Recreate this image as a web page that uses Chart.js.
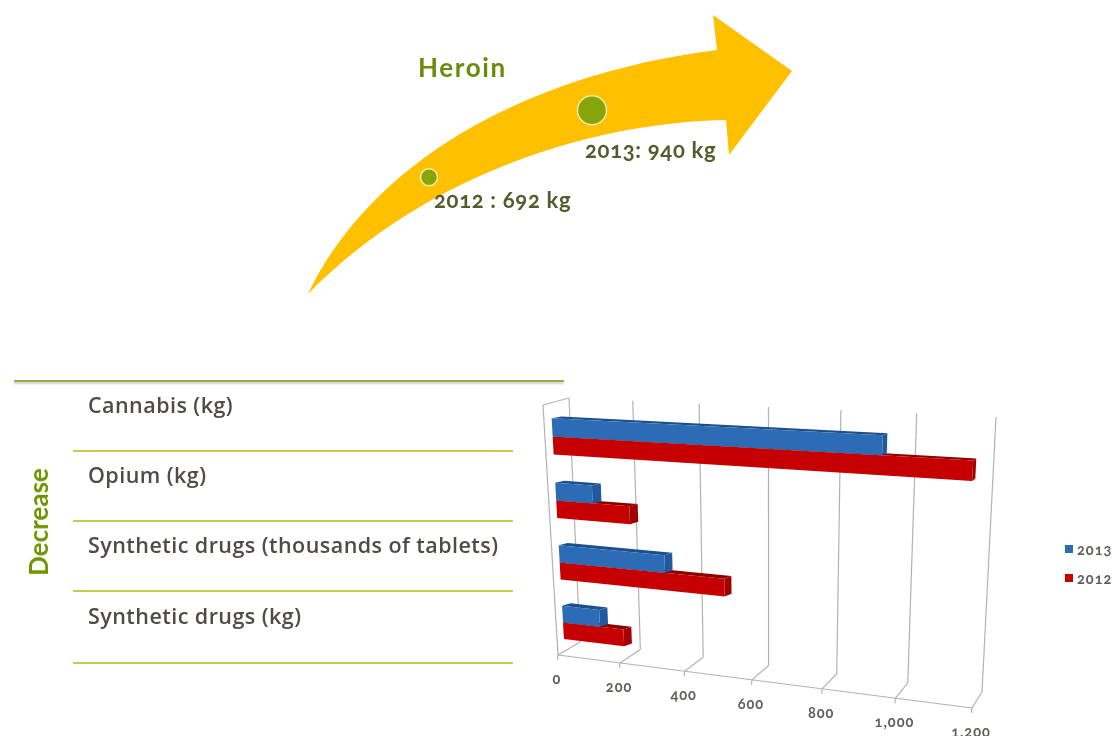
<!DOCTYPE html>
<html>
<head>
<meta charset="utf-8">
<title>Heroin and decreasing seizures</title>
<script src="https://cdn.jsdelivr.net/npm/chart.js@4/dist/chart.umd.min.js"></script>
<style>
  html, body { margin: 0; padding: 0; background: #fff; }
  #page { position: relative; width: 1114px; height: 736px; overflow: hidden; font-family: "Lato", "Open Sans", sans-serif; font-variant-numeric: oldstyle-nums; font-feature-settings: "onum" 1; }
  canvas { position: absolute; left: 0; top: 0; }
  .txt { position: absolute; white-space: nowrap; transform: translateY(-50%); }
  .rule { position: absolute; left: 73px; width: 440px; height: 2px; background: #c6ca4e; }
  #topRule { position: absolute; left: 14px; top: 380px; width: 550px; height: 2px; background: #a3a843; box-shadow: 0 2px 2px rgba(90,90,60,.3); }
  #decrease { position: absolute; left: 38px; top: 522px; transform: translate(-50%,-50%) rotate(-90deg); font-size: 26px; font-weight: 700; color: #6f9400; white-space: nowrap; }
  .row { left: 88px; font-family: "Open Sans", sans-serif; font-size: 21.5px; font-weight: 600; letter-spacing: .45px; color: #4f4c48; }
  .heroin { font-size: 22px; font-weight: 700; letter-spacing: .7px; color: #565b2c; }
  .tick { position: absolute; transform: translate(-50%,-50%); font-size: 14.5px; font-weight: 700; letter-spacing: 1px; color: #5f5d58; }
  .swatch { position: absolute; left: 1065px; width: 8px; height: 8px; }
  .leg { position: absolute; left: 1077px; transform: translateY(-50%); font-size: 14.5px; font-weight: 700; letter-spacing: 1px; color: #5f5d58; }
</style>
</head>
<body>
<div id="page">
  <canvas id="arrowChart" width="1114" height="330"></canvas>
  <canvas id="barChart" width="1114" height="736"></canvas>
  <div id="labels"></div>
  <div id="ticks"></div>
</div>
<script>
// heroin, kg
const heroinYears = [2012, 2013];
const heroinValues = [692, 940];
const heroinLabels = ["2012 : 692 kg", "2013: 940 kg"];
const heroinRadius = [8.5, 14.5];

// decreasing seizures
const categories = ["Cannabis (kg)", "Opium (kg)", "Synthetic drugs (thousands of tablets)", "Synthetic drugs (kg)"];
const values2013 = [935, 115, 330, 120];
const values2012 = [1162, 228, 507, 195];
const seriesNames = ["2013", "2012"];
const tickValues = [0, 200, 400, 600, 800, 1000, 1200];
const tickLabels = ["0", "200", "400", "600", "800", "1,000", "1,200"];

const colors2013 = { front: "#2b6cb4", top: "#1c4f8c", side: "#1f5a9e" };
const colors2012 = { front: "#c60000", top: "#8e0000", side: "#a00000" };

// corners of the plot box on screen: TL, TR, BR, BL
const frontQuad = [[543, 405], [989, 426], [972, 708], [558, 655]];
const backQuad = [[569, 398], [996, 417], [982, 692], [580, 642]];
const BAR_Z0 = 0.3, BAR_Z1 = 0.68;
const BAR_DROP = 2;        // boxes sit a touch lower than the band centre
const TOP_SQUASH = 0.55;   // flatter top faces than the floor would give

// plane at depth z -> homography from the unit square
function planeAt(z) {
  const q = frontQuad.map((p, i) => [p[0] + (backQuad[i][0] - p[0]) * z, p[1] + (backQuad[i][1] - p[1]) * z]);
  const [[x0, y0], [x1, y1], [x2, y2], [x3, y3]] = q;
  const sx = x0 - x1 + x2 - x3, sy = y0 - y1 + y2 - y3;
  const dx1 = x1 - x2, dx2 = x3 - x2, dy1 = y1 - y2, dy2 = y3 - y2;
  const den = dx1 * dy2 - dx2 * dy1;
  const g = (sx * dy2 - dx2 * sy) / den, h = (dx1 * sy - sx * dy1) / den;
  return { a: x1 - x0 + g * x1, b: x3 - x0 + h * x3, c: x0, d: y1 - y0 + g * y1, e: y3 - y0 + h * y3, f: y0, g, h };
}

// flat chart pixel + depth -> screen point
function project(area, px, py, z) {
  const u = (px - area.left) / area.width, v = (py - area.top) / area.height;
  const m = planeAt(z), w = m.g * u + m.h * v + 1;
  return [(m.a * u + m.b * v + m.c) / w, (m.d * u + m.e * v + m.f) / w];
}

function fillPoly(ctx, pts, color) {
  ctx.fillStyle = color;
  ctx.beginPath();
  pts.forEach((p, i) => i ? ctx.lineTo(p[0], p[1]) : ctx.moveTo(p[0], p[1]));
  ctx.closePath();
  ctx.fill();
}

function strokeLine(ctx, a, b) {
  ctx.beginPath();
  ctx.moveTo(a[0], a[1]);
  ctx.lineTo(b[0], b[1]);
  ctx.stroke();
}

// bar drawn as a box standing in the projected plot
class Box3D extends Chart.BarElement {
  draw(ctx) {
    const { x, y, base, height } = this.getProps(["x", "y", "base", "height"]);
    const area = this.$area;
    const t = y - height / 2 + BAR_DROP, b = y + height / 2 + BAR_DROP;
    const f = (px, py) => project(area, px, py, BAR_Z0);
    const r = (px, py) => {
      const front = f(px, py), rear = project(area, px, py, BAR_Z1);
      return [rear[0], front[1] + (rear[1] - front[1]) * TOP_SQUASH];
    };
    fillPoly(ctx, [f(base, t), f(x, t), r(x, t), r(base, t)], this.$faces.top);
    fillPoly(ctx, [f(x, t), r(x, t), r(x, b), f(x, b)], this.$faces.side);
    fillPoly(ctx, [f(base, t), f(x, t), f(x, b), f(base, b)], this.$faces.front);
  }
}
Box3D.id = "box3d";
Box3D.defaults = Chart.BarElement.defaults;
Box3D.defaultRoutes = Chart.BarElement.defaultRoutes;

class Bar3DController extends Chart.BarController {
  update(mode) {
    super.update(mode);
    const faces = this.index === 0 ? colors2013 : colors2012;
    this.getMeta().data.forEach(el => { el.$area = this.chart.chartArea; el.$faces = faces; });
  }
}
Bar3DController.id = "bar3d";
Bar3DController.defaults = Object.assign({}, Chart.BarController.defaults, { dataElementType: "box3d" });
Bar3DController.overrides = Chart.BarController.overrides;
Chart.register(Box3D, Bar3DController);

// back wall, left wall, floor and tick marks
const plotBox = {
  id: "plotBox",
  beforeDatasetsDraw(chart) {
    const ctx = chart.ctx, area = chart.chartArea, sx = chart.scales.x;
    const top = area.top, bot = area.bottom, left = area.left;
    ctx.save();
    ctx.strokeStyle = "#b2b2b2";
    ctx.lineWidth = 1.2;
    tickValues.forEach(v => {
      const px = sx.getPixelForValue(v);
      strokeLine(ctx, project(area, px, top, 1), project(area, px, bot, 1));
      const f = project(area, px, bot, 0);
      strokeLine(ctx, f, project(area, px, bot, 1));
      strokeLine(ctx, f, [f[0] - 0.5, f[1] + 5]);
    });
    strokeLine(ctx, project(area, left, bot, 0), project(area, area.right, bot, 0));
    strokeLine(ctx, project(area, left, top, 0), project(area, left, bot, 0));
    strokeLine(ctx, project(area, left, top, 0), project(area, left, top, 1));
    ctx.restore();
  },
  afterDraw(chart) {
    const area = chart.chartArea, sx = chart.scales.x;
    const box = document.getElementById("ticks");
    box.innerHTML = "";
    tickValues.forEach((v, i) => {
      const f = project(area, sx.getPixelForValue(v), area.bottom, 0);
      const el = document.createElement("div");
      el.className = "tick";
      el.textContent = tickLabels[i];
      el.style.left = (f[0] - 1) + "px";
      el.style.top = (f[1] + 23) + "px";
      box.appendChild(el);
    });
  }
};

new Chart(document.getElementById("barChart"), {
  type: "bar3d",
  data: {
    labels: categories,
    datasets: [
      { label: seriesNames[0], data: values2013, backgroundColor: colors2013.front },
      { label: seriesNames[1], data: values2012, backgroundColor: colors2012.front }
    ]
  },
  options: {
    indexAxis: "y",
    responsive: false,
    animation: false,
    categoryPercentage: 0.56,
    barPercentage: 1,
    plugins: { legend: { display: false }, tooltip: { enabled: false } },
    scales: {
      x: { type: "linear", min: 0, max: 1200, display: false },
      y: { type: "category", display: false }
    }
  },
  plugins: [plotBox]
});

// the big yellow arrow under the two heroin points
const arrowShape = {
  id: "arrowShape",
  beforeDatasetsDraw(chart) {
    const ctx = chart.ctx;
    ctx.save();
    ctx.fillStyle = "#ffc000";
    ctx.beginPath();
    ctx.moveTo(308, 294);
    ctx.bezierCurveTo(370, 165, 520, 75, 717, 50);
    ctx.lineTo(713, 15);
    ctx.lineTo(792, 71);
    ctx.lineTo(729, 155);
    ctx.lineTo(726, 120);
    ctx.bezierCurveTo(600, 122, 430, 170, 308, 294);
    ctx.closePath();
    ctx.fill();
    ctx.restore();
  }
};

new Chart(document.getElementById("arrowChart"), {
  type: "scatter",
  data: {
    datasets: [{
      data: heroinYears.map((y, i) => ({ x: y, y: heroinValues[i] })),
      showLine: false,
      pointRadius: heroinRadius,
      pointBackgroundColor: "#86a50c",
      pointBorderColor: "#f4ec9c",
      pointBorderWidth: 1.5
    }]
  },
  options: {
    responsive: false,
    animation: false,
    layout: { padding: { left: 266, right: 359, top: 94, bottom: 128 } },
    plugins: { legend: { display: false }, tooltip: { enabled: false } },
    scales: {
      x: { type: "linear", min: 2011, max: 2014, display: false },
      y: { type: "linear", min: 600, max: 1000, display: false }
    }
  },
  plugins: [arrowShape]
});

// text and rules around the charts
const labels = document.getElementById("labels");
function addText(cls, text, left, top, extra) {
  const el = document.createElement("div");
  el.className = cls;
  el.textContent = text;
  if (left !== null) el.style.left = left + "px";
  el.style.top = top + "px";
  if (extra) Object.assign(el.style, extra);
  labels.appendChild(el);
}
addText("txt", "Heroin", 418, 67, { fontSize: "26px", fontWeight: 700, letterSpacing: "1.6px", color: "#6c8a0c" });
addText("txt heroin", heroinLabels[0], 434, 199);
addText("txt heroin", heroinLabels[1], 585, 149);
addText("", "Decrease", null, 522);
labels.lastChild.id = "decrease";

const topRule = document.createElement("div");
topRule.id = "topRule";
labels.appendChild(topRule);
[404, 474, 544, 615].forEach((y, i) => addText("txt row", categories[i], 88, y));
[450, 520, 590, 662].forEach(y => {
  const el = document.createElement("div");
  el.className = "rule";
  el.style.top = y + "px";
  labels.appendChild(el);
});

[[549, colors2013.front], [578, colors2012.front]].forEach(([y, c], i) => {
  const sw = document.createElement("div");
  sw.className = "swatch";
  sw.style.top = (y - 4) + "px";
  sw.style.background = c;
  labels.appendChild(sw);
  addText("leg", seriesNames[i], null, y);
});
</script>
</body>
</html>
